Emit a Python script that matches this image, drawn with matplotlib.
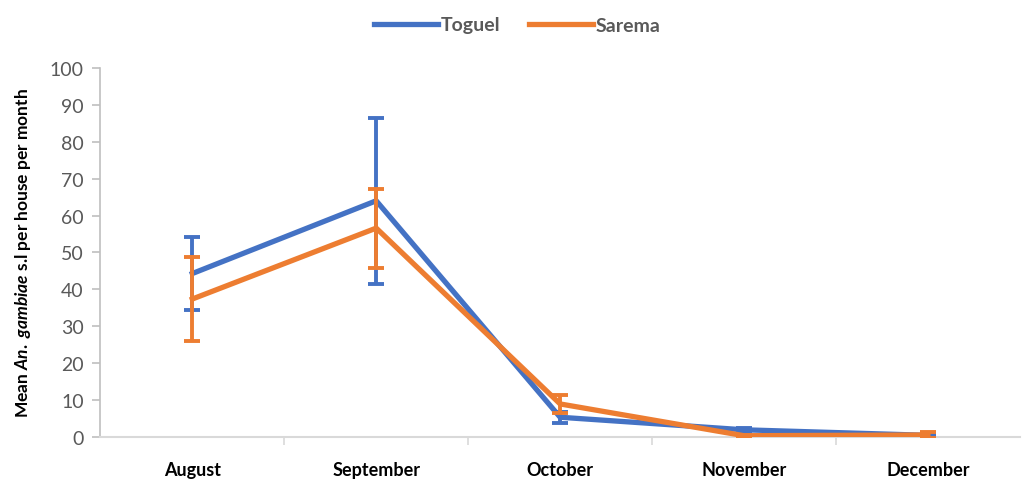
import numpy as np
import matplotlib.pyplot as plt

plt.rcParams['font.family'] = ['Lato', 'DejaVu Sans']
plt.rcParams['mathtext.fontset'] = 'custom'
plt.rcParams['mathtext.rm'] = 'Lato:bold'
plt.rcParams['mathtext.it'] = 'Lato:italic:bold'
plt.rcParams['mathtext.bf'] = 'Lato:bold'

months = ['August', 'September', 'October', 'November', 'December']

toguel = [44.3, 64.0, 5.4, 2.0, 0.5]
toguel_err = [9.8, 22.4, 1.5, 0.6, 0.3]

sarema = [37.4, 56.6, 9.0, 0.4, 0.6]
sarema_err = [11.4, 10.7, 2.5, 0.3, 0.8]

blue = '#4472C4'
orange = '#ED7D31'
grey = '#595959'

fig = plt.figure(figsize=(10.24, 4.81), dpi=100)
ax = fig.add_axes([0.098, 0.089, 0.898, 0.768])

x = np.arange(len(months))
ax.errorbar(x, toguel, yerr=toguel_err, color=blue, lw=3.8, elinewidth=2.8,
            capsize=6, capthick=2.8, label='Toguel', zorder=3)
ax.errorbar(x, sarema, yerr=sarema_err, color=orange, lw=3.8, elinewidth=2.8,
            capsize=6, capthick=2.8, label='Sarema', zorder=4)

ax.set_xlim(-0.5, len(months) - 0.5)
ax.set_ylim(0, 100)
ax.set_yticks(np.arange(0, 101, 10))
ax.set_xticks(x)
ax.set_xticklabels(months, fontweight='bold', fontsize=13, color='black')
ax.set_xticks(np.arange(0.5, len(months) - 0.5, 1), minor=True)
ax.tick_params(axis='x', which='major', length=0, pad=17)
ax.tick_params(axis='x', which='minor', length=6, color='#D9D9D9', width=1.2)
ax.tick_params(axis='y', length=6, color='#BFBFBF', width=1.2,
               labelsize=14, labelcolor=grey, pad=6)

for side in ['top', 'right']:
    ax.spines[side].set_visible(False)
ax.spines['left'].set_color('#BFBFBF')
ax.spines['bottom'].set_color('#D9D9D9')
ax.spines['left'].set_linewidth(1.2)
ax.spines['bottom'].set_linewidth(1.5)

ax.set_ylabel(r'Mean $\mathit{An.\ gambiae}$ s.l per house per month',
              fontweight='bold', fontsize=12.5, color='black', labelpad=12)

handles, labels = ax.get_legend_handles_labels()
handles = [h[0] for h in handles]
leg = fig.legend(handles, labels, loc='upper center', bbox_to_anchor=(0.505, 1.0),
                 ncol=2, frameon=False, handlelength=3.3, handletextpad=0.1,
                 columnspacing=1.5, prop={'weight': 'bold', 'size': 14})
for t in leg.get_texts():
    t.set_color(grey)

fig.savefig('out.png', dpi=100)
